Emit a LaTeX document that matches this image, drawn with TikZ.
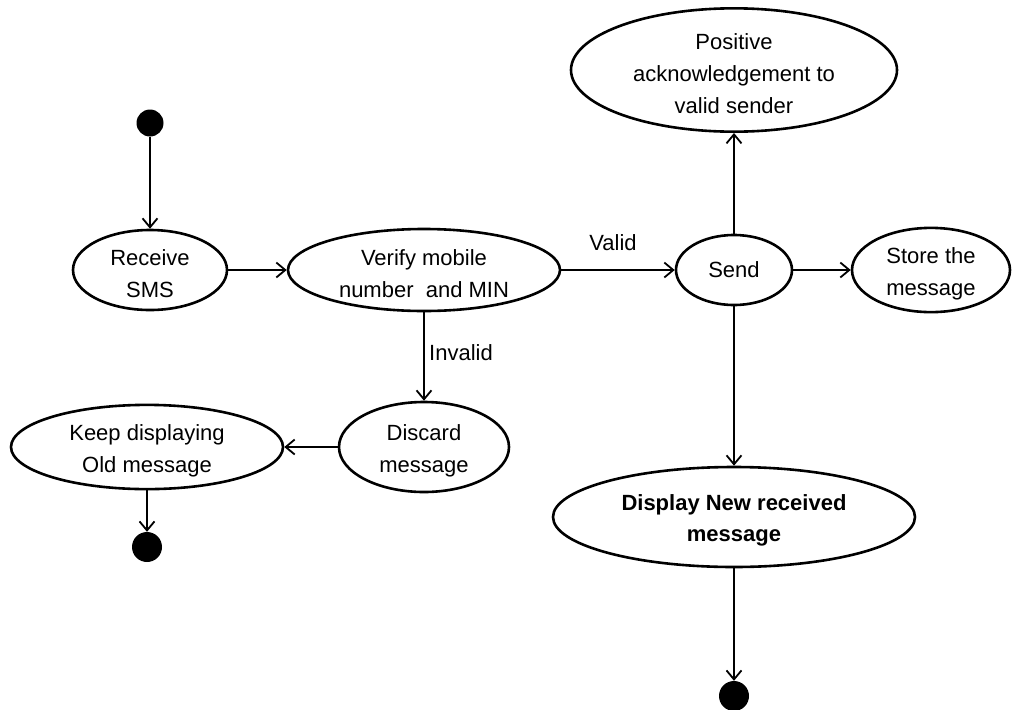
\documentclass[tikz,border=0pt]{standalone}
\usepackage{fontspec}
\setmainfont{Liberation Sans}
\usetikzlibrary{arrows.meta,shapes.geometric}

% taller first line: sets multi-line state texts slightly below the centre
\newcommand{\firstline}{\rule{0pt}{23pt}}

\tikzset{
  state/.style={ellipse, draw=black, line width=2.6pt, fill=white, inner sep=0pt,
    align=center, font=\fontsize{22}{32}\selectfont},
  pseudo/.style={circle, fill=black, draw=none, inner sep=0pt},
  flow/.style={line width=1.8pt, -{Straight Barb[length=9pt,width=15pt,line width=1.8pt]}},
  guard/.style={font=\fontsize{22}{26}\selectfont}
}

\begin{document}
\begin{tikzpicture}[x=1pt,y=-1pt]
  \fill[white] (0,0) rectangle (1013,710);
  \useasboundingbox (0,0) rectangle (1013,710);

  % initial and final pseudo-states
  \node[pseudo, minimum size=27pt] (start) at (150,123) {};
  \node[pseudo, minimum size=30pt] (endL) at (147,547) {};
  \node[pseudo, minimum size=30pt] (endB) at (734,696) {};

  % activity states
  \node[state, minimum width=154pt, minimum height=80pt] (receive) at (150,270) {\firstline Receive\\SMS};
  \node[state, minimum width=272pt, minimum height=82pt] (verify) at (424,270) {\firstline Verify mobile\\number~ and MIN};
  \node[state, minimum width=116pt, minimum height=70pt] (send) at (734,270) {Send};
  \node[state, minimum width=158pt, minimum height=75pt] (store) at (931,270) {\firstline Store the\\message};
  \node[state, minimum width=326pt, minimum height=118pt] (ack) at (734,70) {\firstline Positive\\acknowledgement to\\valid sender};
  \node[state, minimum width=170pt, minimum height=90pt] (discard) at (424,447) {\firstline Discard\\message};
  \node[state, minimum width=272pt, minimum height=74pt] (keep) at (147,447) {\firstline Keep displaying\\Old message};
  \node[state, minimum width=362pt, minimum height=100pt, font=\fontsize{22}{31}\bfseries\selectfont] (display) at (734,517) {\firstline Display New received\\message};

  % transitions
  \draw[flow] (start) -- (receive);
  \draw[flow] (receive) -- (verify);
  \draw[flow] (verify) -- (send);
  \draw[flow] (send) -- (store);
  \draw[flow] (send) -- (ack);
  \draw[flow] (send) -- (display);
  \draw[flow] (display) -- (endB);
  \draw[flow] (verify) -- (discard);
  \draw[flow] (discard) -- (keep);
  \draw[flow] (keep) -- (endL);

  % guard labels
  \node[guard] (valid) at (613,243) {Valid};
  \node[guard] (invalid) at (461,353) {Invalid};
\end{tikzpicture}
\end{document}
